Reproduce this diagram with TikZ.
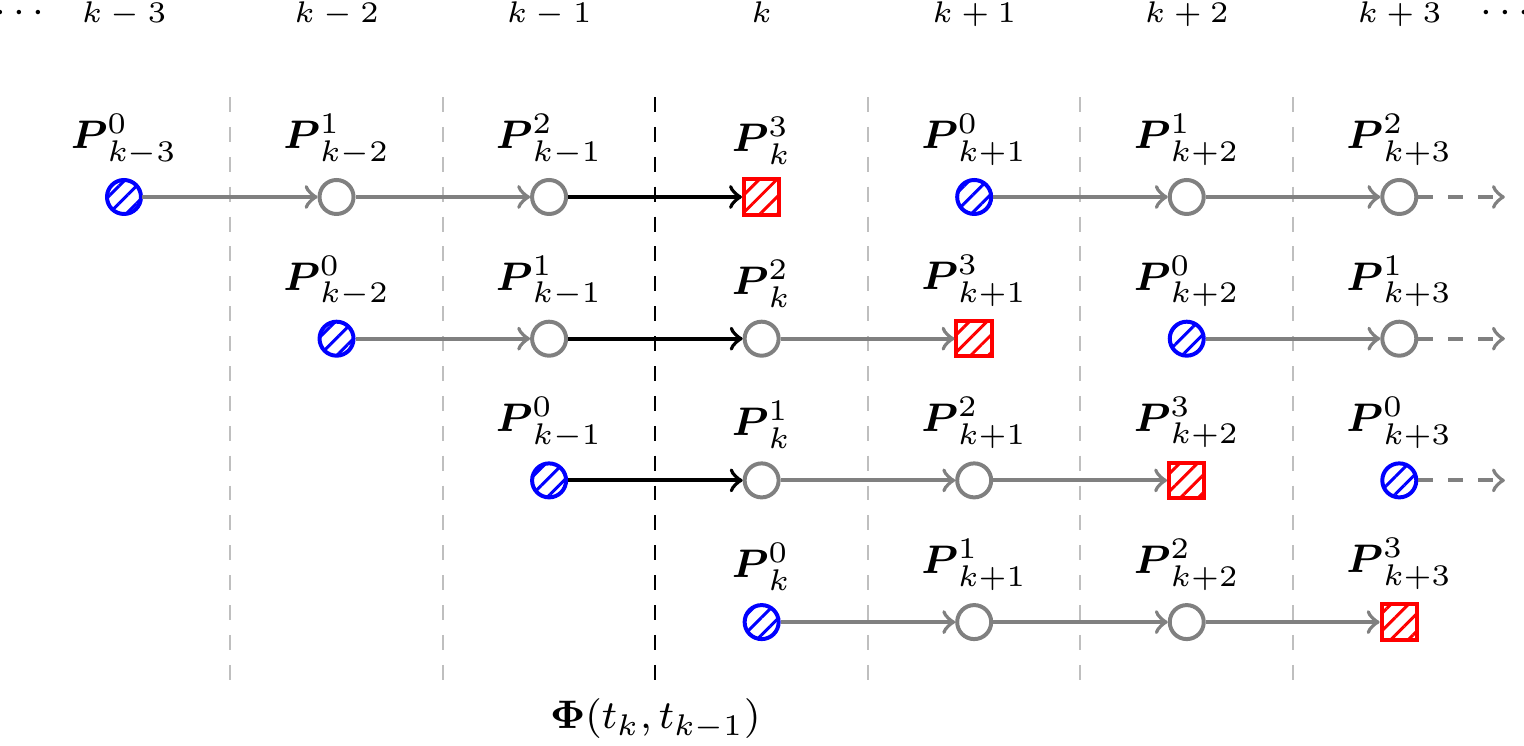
\documentclass[tikz,border=0pt]{standalone}
\usepackage{amsmath,amssymb}
\usetikzlibrary{patterns,patterns.meta}
\begin{document}
\begin{tikzpicture}[
  hatch/.style={pattern={Lines[angle=45,distance=2.5pt,line width=0.6pt]},pattern color=#1},
  pmid/.style={circle,draw=gray,fill=white,thick,minimum size=0.24cm,inner sep=0pt},
  pinit/.style={circle,draw=blue,thick,hatch=blue,minimum size=0.24cm,inner sep=0pt},
  pend/.style={rectangle,draw=red,thick,hatch=red,minimum size=0.25cm,inner sep=0pt},
  lab/.style={label distance=-1pt,font=\fontsize{8.5}{10}\selectfont},
  flow/.style={->,thick,gray},
  prop/.style={->,thick,black},
  tail/.style={->,thick,gray,dashed},
  sep/.style={gray!50,dashed,line width=0.4pt},
  phisep/.style={black,dashed,line width=0.4pt},
  toplab/.style={anchor=base,font=\fontsize{5.6}{7}\selectfont,inner sep=0pt},
  dotlab/.style={anchor=base,font=\fontsize{8.2}{10}\selectfont,inner sep=0pt}
]
\useasboundingbox (0,0) rectangle (10.755,-5.258);

% column headers
\node[toplab] (h0) at (0.875,-0.16) {$k-3$};
\node[toplab] (h1) at (2.375,-0.16) {$k-2$};
\node[toplab] (h2) at (3.875,-0.16) {$k-1$};
\node[toplab] (h3) at (5.375,-0.16) {$k$};
\node[toplab] (h4) at (6.875,-0.16) {$k+1$};
\node[toplab] (h5) at (8.375,-0.16) {$k+2$};
\node[toplab] (h6) at (9.875,-0.16) {$k+3$};
\node[dotlab] (dl) at (0.16,-0.16) {$\cdots$};
\node[dotlab] (dr) at (10.65,-0.16) {$\cdots$};

% separators
\coordinate (s0t) at (1.625,-0.685); \coordinate (s0b) at (1.625,-4.8);
\coordinate (s1t) at (3.125,-0.685); \coordinate (s1b) at (3.125,-4.8);
\coordinate (s2t) at (4.625,-0.685); \coordinate (s2b) at (4.625,-4.8);
\coordinate (s3t) at (6.125,-0.685); \coordinate (s3b) at (6.125,-4.8);
\coordinate (s4t) at (7.625,-0.685); \coordinate (s4b) at (7.625,-4.8);
\coordinate (s5t) at (9.125,-0.685); \coordinate (s5b) at (9.125,-4.8);
\draw[sep] (s0t) -- (s0b);
\draw[sep] (s1t) -- (s1b);
\draw[phisep] (s2t) -- (s2b);
\draw[sep] (s3t) -- (s3b);
\draw[sep] (s4t) -- (s4b);
\draw[sep] (s5t) -- (s5b);
\node[anchor=base,font=\fontsize{8.4}{10}\selectfont] (phi) at (4.625,-5.14) {$\boldsymbol{\Phi}(t_k,t_{k-1})$};

% row 0
\node[pinit,label={[lab]above:$\boldsymbol{P}^{0}_{k-3}$}] (n00) at (0.875,-1.39) {};
\node[pmid,label={[lab]above:$\boldsymbol{P}^{1}_{k-2}$}] (n01) at (2.375,-1.39) {};
\node[pmid,label={[lab]above:$\boldsymbol{P}^{2}_{k-1}$}] (n02) at (3.875,-1.39) {};
\node[pend,label={[lab]above:$\boldsymbol{P}^{3}_{k}$}] (n03) at (5.375,-1.39) {};
\node[pinit,label={[lab]above:$\boldsymbol{P}^{0}_{k+1}$}] (n04) at (6.875,-1.39) {};
\node[pmid,label={[lab]above:$\boldsymbol{P}^{1}_{k+2}$}] (n05) at (8.375,-1.39) {};
\node[pmid,label={[lab]above:$\boldsymbol{P}^{2}_{k+3}$}] (n06) at (9.875,-1.39) {};
\coordinate (e0) at (10.62,-1.39);

% row 1
\node[pinit,label={[lab]above:$\boldsymbol{P}^{0}_{k-2}$}] (n11) at (2.375,-2.39) {};
\node[pmid,label={[lab]above:$\boldsymbol{P}^{1}_{k-1}$}] (n12) at (3.875,-2.39) {};
\node[pmid,label={[lab]above:$\boldsymbol{P}^{2}_{k}$}] (n13) at (5.375,-2.39) {};
\node[pend,label={[lab]above:$\boldsymbol{P}^{3}_{k+1}$}] (n14) at (6.875,-2.39) {};
\node[pinit,label={[lab]above:$\boldsymbol{P}^{0}_{k+2}$}] (n15) at (8.375,-2.39) {};
\node[pmid,label={[lab]above:$\boldsymbol{P}^{1}_{k+3}$}] (n16) at (9.875,-2.39) {};
\coordinate (e1) at (10.62,-2.39);

% row 2
\node[pinit,label={[lab]above:$\boldsymbol{P}^{0}_{k-1}$}] (n22) at (3.875,-3.39) {};
\node[pmid,label={[lab]above:$\boldsymbol{P}^{1}_{k}$}] (n23) at (5.375,-3.39) {};
\node[pmid,label={[lab]above:$\boldsymbol{P}^{2}_{k+1}$}] (n24) at (6.875,-3.39) {};
\node[pend,label={[lab]above:$\boldsymbol{P}^{3}_{k+2}$}] (n25) at (8.375,-3.39) {};
\node[pinit,label={[lab]above:$\boldsymbol{P}^{0}_{k+3}$}] (n26) at (9.875,-3.39) {};
\coordinate (e2) at (10.62,-3.39);

% row 3
\node[pinit,label={[lab]above:$\boldsymbol{P}^{0}_{k}$}] (n33) at (5.375,-4.39) {};
\node[pmid,label={[lab]above:$\boldsymbol{P}^{1}_{k+1}$}] (n34) at (6.875,-4.39) {};
\node[pmid,label={[lab]above:$\boldsymbol{P}^{2}_{k+2}$}] (n35) at (8.375,-4.39) {};
\node[pend,label={[lab]above:$\boldsymbol{P}^{3}_{k+3}$}] (n36) at (9.875,-4.39) {};

% connectors
\draw[flow] (n00) -- (n01);
\draw[flow] (n01) -- (n02);
\draw[prop] (n02) -- (n03);
\draw[flow] (n04) -- (n05);
\draw[flow] (n05) -- (n06);
\draw[tail] (n06) -- (e0);

\draw[flow] (n11) -- (n12);
\draw[prop] (n12) -- (n13);
\draw[flow] (n13) -- (n14);
\draw[flow] (n15) -- (n16);
\draw[tail] (n16) -- (e1);

\draw[prop] (n22) -- (n23);
\draw[flow] (n23) -- (n24);
\draw[flow] (n24) -- (n25);
\draw[tail] (n26) -- (e2);

\draw[flow] (n33) -- (n34);
\draw[flow] (n34) -- (n35);
\draw[flow] (n35) -- (n36);
\end{tikzpicture}
\end{document}
